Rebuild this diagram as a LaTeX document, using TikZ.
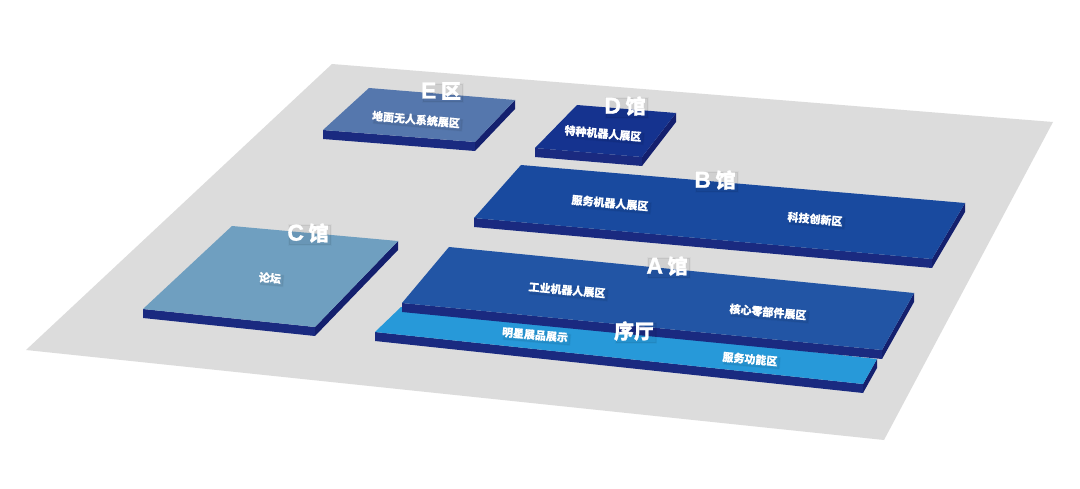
\documentclass[tikz,border=0pt]{standalone}
\usepackage{fontspec}
\setmainfont{Noto Sans CJK SC}
\newfontfamily\latinface[FakeBold=1.2]{Liberation Sans}
\usetikzlibrary{calc}
\definecolor{floorc}{HTML}{DCDCDC}
\definecolor{sidec}{HTML}{1A2A80}
\definecolor{sidedk}{HTML}{14206E}
\definecolor{ec}{HTML}{5577AD}
\definecolor{dc}{HTML}{15338F}
\definecolor{bc}{HTML}{194A9F}
\definecolor{ac}{HTML}{2255A5}
\definecolor{hc}{HTML}{2799D9}
\definecolor{cc}{HTML}{6F9FC0}
\newcommand{\hallname}[2]{{\latinface\fontsize{23}{23}\selectfont #1} #2}
\tikzset{
  softshade/.style={
    preaction={draw=black,line width=2pt,rounded corners=2pt,opacity=.025,transform canvas={shift={(2pt,-2pt)}}},
    preaction={draw=black,line width=1pt,rounded corners=2pt,opacity=.03,transform canvas={shift={(2pt,-2pt)}}},
    preaction={fill=black,rounded corners=2pt,opacity=.05,transform canvas={shift={(2pt,-2pt)}}}},
  smalllabel/.style={softshade,text=white,font=\bfseries\fontsize{11}{11}\selectfont\addfontfeature{FakeBold=0.6},rotate=-5,inner sep=0pt},
  biglabel/.style={softshade,text=white,font=\bfseries\fontsize{20}{20}\selectfont\addfontfeature{FakeBold=1},inner sep=0pt}
}
% #1 colour; #2 left, #3 back, #4 right, #5 front corner of the top; #6 drop
\newcommand{\slab}[6]{%
  \fill[sidec] #2 -- #5 -- ++(0,#6) -- ($#2+(0,#6)$) -- cycle;
  \fill[sidedk] #5 -- #4 -- ($#4+(0,#6)$) -- ($#5+(0,#6)$) -- cycle;
  \fill[#1] #2 -- #3 -- #4 -- #5 -- cycle;
}
\begin{document}
\begin{tikzpicture}[x=1pt,y=-1pt]
\useasboundingbox (0,0) rectangle (1080,489);
\fill[white] (0,0) rectangle (1080,489);
\fill[floorc] (332,64) -- (1053,122) -- (884,440) -- (26,350) -- cycle;
\slab{ec}{(323,130)}{(369,88)}{(515,100)}{(475,142)}{9}
\slab{dc}{(535,148)}{(577,105)}{(676,113)}{(642,157)}{9}
\slab{bc}{(474,218)}{(521,165)}{(965,203)}{(932,259)}{9}
\slab{cc}{(143,309)}{(232,226)}{(398,241)}{(315,327)}{9}
\slab{hc}{(375,332)}{(401,307)}{(877,359)}{(863,384)}{9}
\slab{ac}{(402,303)}{(449,247)}{(914,293)}{(882,350)}{9}
\node[smalllabel] (e1) at (416,119.5) {地面无人系统展区};
\node[smalllabel] (d1) at (603,133.5) {特种机器人展区};
\node[smalllabel] (b1) at (610,203) {服务机器人展区};
\node[smalllabel] (b2) at (815,219) {科技创新区};
\node[smalllabel] (a1) at (567,290) {工业机器人展区};
\node[smalllabel] (a2) at (768,312) {核心零部件展区};
\node[smalllabel] (h1) at (535,335) {明星展品展示};
\node[smalllabel] (h2) at (750,359) {服务功能区};
\node[smalllabel] (c1) at (270,278) {论坛};
\node[biglabel] (ht) at (634,331) {序厅};
\node[biglabel] (at) at (667,266) {\hallname{A}{馆}};
\node[biglabel] (bt) at (715,180) {\hallname{B}{馆}};
\node[biglabel] (ct) at (308,233) {\hallname{C}{馆}};
\node[biglabel] (dt) at (625,106) {\hallname{D}{馆}};
\node[biglabel] (et) at (441,91) {\hallname{E}{区}};
\end{tikzpicture}
\end{document}
